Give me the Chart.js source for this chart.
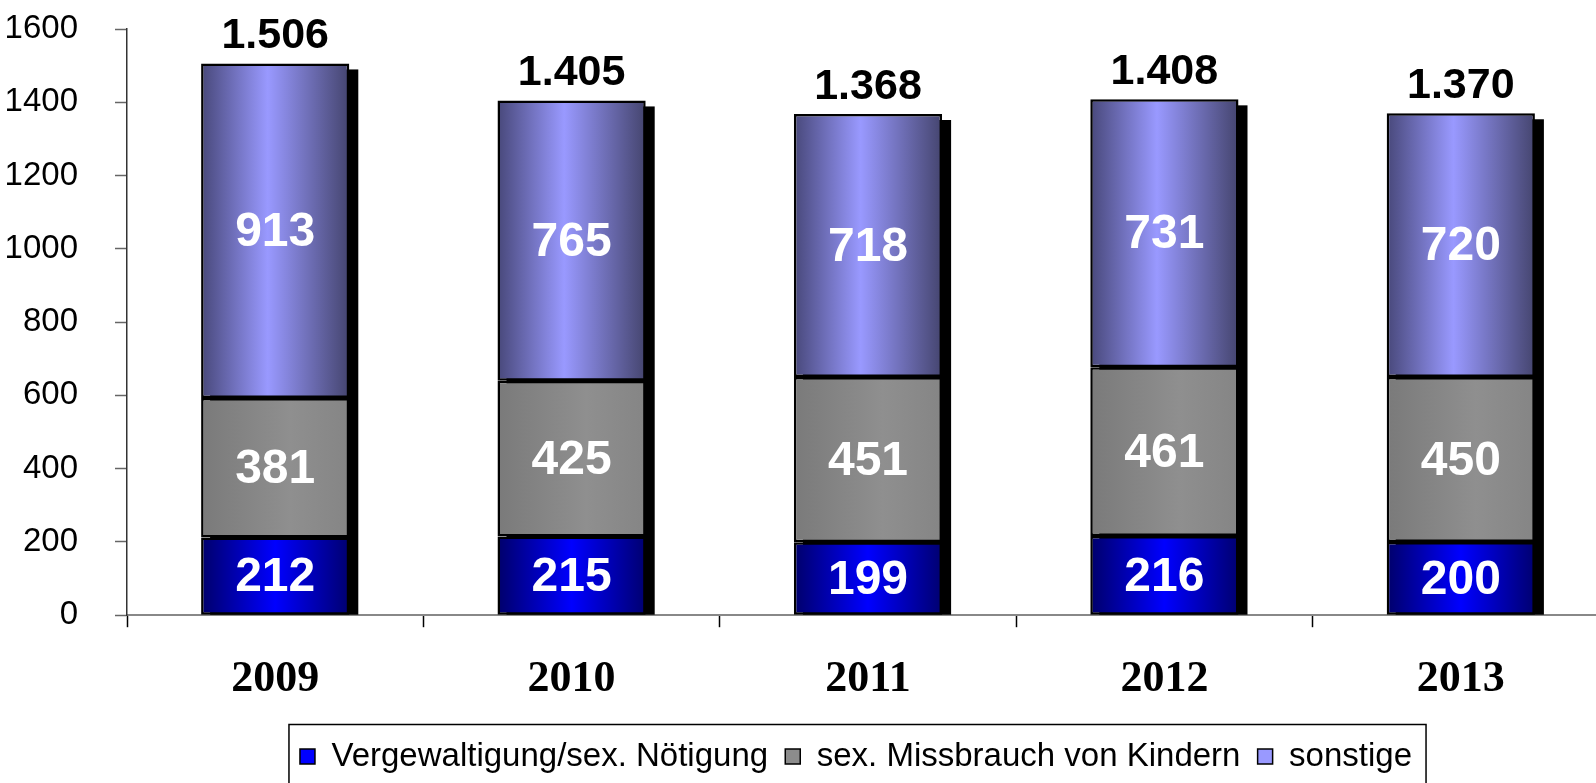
<!DOCTYPE html>
<html>
<head>
<meta charset="utf-8">
<script src="https://cdn.jsdelivr.net/npm/chart.js@4.4.1/dist/chart.umd.min.js"></script>
<style>
  html, body { margin:0; padding:0; background:#fff; overflow:hidden; }
  #wrap { width:1612px; height:783px; }
</style>
</head>
<body>
<div id="wrap"><canvas id="chart" width="1612" height="783"></canvas></div>
<script>
const years = ['2009','2010','2011','2012','2013']
const vergewaltigung = [212, 215, 199, 216, 200]
const missbrauch = [381, 425, 451, 461, 450]
const sonstige = [913, 765, 718, 731, 720]

const SANS = "'Liberation Sans', Arial, sans-serif"
const SERIF = "'Liberation Serif', 'Times New Roman', serif"

// 1506 -> "1.506"
function fmt(n){
    return String(n).replace(/\B(?=(\d{3})+(?!\d))/g, '.')
}

// horizontal gradient across one bar
function barGradient(stops, fallback){
    return function(ctx){
        const chart = ctx.chart
        if(!chart.chartArea || ctx.dataIndex === undefined) return fallback
        const xs = chart.scales.x
        const cx = xs.getPixelForValue(ctx.dataIndex)
        const half = xs.width / years.length * 0.5 / 2
        const g = chart.ctx.createLinearGradient(cx - half, 0, cx + half, 0)
        stops.forEach(s => g.addColorStop(s[0], s[1]))
        return g
    }
}

const blueStops = [[0,'#00006a'],[0.5,'#0000ff'],[1,'#000070']]
const grayStops = [[0,'#7a7a7a'],[0.6,'#8f8f8f'],[1,'#858585']]
const lilaStops = [[0,'#48487a'],[0.45,'#9999ff'],[1,'#45456f']]

// black drop shadow behind each stacked column
const shadow = {
    id:'shadow',
    beforeDatasetsDraw(chart){
        const c = chart.ctx
        const top = chart.getDatasetMeta(2).data
        const bottom = chart.getDatasetMeta(0).data
        c.save()
        c.fillStyle = '#000'
        top.forEach((el, i) => {
            const base = bottom[i].base
            c.fillRect(el.x - el.width/2 + 9, el.y + 6, el.width, base - el.y - 6)
        })
        c.restore()
    }
}

// values inside the segments and totals above the columns
const labels = {
    id:'labels',
    afterDatasetsDraw(chart){
        const c = chart.ctx
        c.save()
        c.textAlign = 'center'
        c.textBaseline = 'middle'
        c.fillStyle = '#fff'
        c.font = 'bold 48px ' + SANS
        chart.data.datasets.forEach((ds, d) => {
            chart.getDatasetMeta(d).data.forEach((el, i) => {
                c.fillText(ds.data[i], el.x, (el.y + el.base)/2 + 2)
            })
        })
        c.fillStyle = '#000'
        c.font = 'bold 43px ' + SANS
        chart.getDatasetMeta(2).data.forEach((el, i) => {
            const total = vergewaltigung[i] + missbrauch[i] + sonstige[i]
            c.fillText(fmt(total), el.x, el.y - 27)
        })
        c.restore()
    }
}

// legend sits a bit left of the plot centre, with a frame around it
const legendFrame = {
    id:'legendFrame',
    afterLayout(chart){
        chart.legend.left -= 12
        chart.legend.right -= 12
    },
    afterDraw(chart){
        const boxes = chart.legend.legendHitBoxes
        if(!boxes || !boxes.length) return
        const left = Math.min(...boxes.map(b => b.left)) - 11
        const right = Math.max(...boxes.map(b => b.left + b.width)) + 14
        const mid = boxes[0].top + boxes[0].height/2
        const c = chart.ctx
        c.save()
        c.strokeStyle = '#000'
        c.lineWidth = 1.5
        c.strokeRect(left, mid - 32, right - left, 80)
        c.restore()
    }
}

new Chart(document.getElementById('chart'), {
    type:'bar',
    data:{
        labels: years,
        datasets:[
            { label:'Vergewaltigung/sex. Nötigung ', data: vergewaltigung,
              backgroundColor: barGradient(blueStops, '#0000ff'), legendColor:'#0000ff' },
            { label:'sex. Missbrauch von Kindern ', data: missbrauch,
              backgroundColor: barGradient(grayStops, '#8c8c8c'), legendColor:'#8c8c8c' },
            { label:'sonstige', data: sonstige,
              backgroundColor: barGradient(lilaStops, '#9999ff'), legendColor:'#9999ff' }
        ]
    },
    options:{
        responsive:false,
        animation:false,
        devicePixelRatio:1,
        layout:{ padding:{ left:0, top:29, right:3, bottom:0 } },
        datasets:{ bar:{ categoryPercentage:1, barPercentage:0.5, borderColor:'#000', borderWidth:2.5, borderSkipped:false } },
        scales:{
            x:{
                stacked:true,
                grid:{ drawOnChartArea:false, tickLength:12, tickColor:'#000', tickWidth:1.5 },
                border:{ color:'#888', width:2 },
                ticks:{ color:'#000', padding:26, font:{ family:SERIF, size:44, weight:'bold' } }
            },
            y:{
                stacked:true,
                min:0, max:1600,
                afterFit(scale){
                    scale.width = 127
                    scale.paddingTop = 0
                    scale.paddingBottom = 0
                },
                grid:{ drawOnChartArea:false, tickLength:12, tickColor:'#666', tickWidth:1.5 },
                border:{ color:'#333', width:1.5 },
                ticks:{ stepSize:200, color:'#000', padding:37, font:{ family:SANS, size:33 },
                        callback: v => String(v) }
            }
        },
        plugins:{
            tooltip:{ enabled:false },
            legend:{
                position:'bottom',
                fullSize:false,
                labels:{
                    color:'#000',
                    boxWidth:15, boxHeight:15,
                    padding:8,
                    font:{ family:SANS, size:33 },
                    generateLabels(chart){
                        return chart.data.datasets.map((ds, i) => ({
                            text: ds.label,
                            fillStyle: ds.legendColor,
                            strokeStyle:'#000',
                            lineWidth:1.5,
                            fontColor:'#000',
                            datasetIndex:i
                        }))
                    }
                }
            }
        }
    },
    plugins:[shadow, labels, legendFrame]
})
</script>
</body>
</html>
